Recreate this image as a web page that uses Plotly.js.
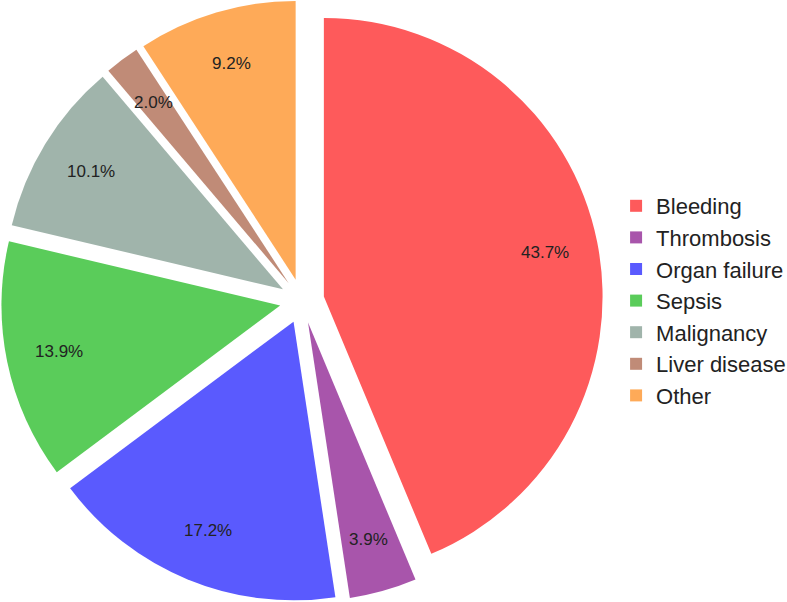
<!DOCTYPE html>
<html>
<head>
<meta charset="utf-8">
<script src="https://cdn.plot.ly/plotly-3.0.1.min.js"></script>
<style>
html,body{margin:0;padding:0;background:#fff}
#chart{width:787px;height:602px}
</style>
</head>
<body>
<div id="chart"></div>
<script>
// causes, share in percent (clockwise from 12 o'clock)
const causes=['Bleeding','Thrombosis','Organ failure','Sepsis','Malignancy','Liver disease','Other']
const shares=[43.7,3.9,17.2,13.9,10.1,2.0,9.2]
const colors=['#fe5a5b','#a855ab','#5a5afe','#5acc5a','#a0b4ab','#c08b77','#feaa58']

const W=787,H=602
const mg={l:0,r:183,t:0,b:0,autoexpand:false}
const pull=0.08
const labelR=0.81

let trace={
    type:'pie',
    labels:causes,
    values:shares,
    sort:false,
    direction:'clockwise',
    rotation:0,
    pull:shares.map(_=>pull),
    marker:{colors:colors,line:{width:0}},
    textinfo:'none',
    hoverinfo:'label+percent'
}

// percent labels along each slice bisector, measured from the pulled-out tip
let pw=W-mg.l-mg.r, ph=H-mg.t-mg.b
let cx=pw/2, cy=ph/2
let r=Math.min(pw,ph)/2/(1+pull)
let total=shares.reduce((a,b)=>a+b)
let cum=0
let annotations=[]
shares.forEach((v,i)=>{
    let mid=(cum+v/2)/total*2*Math.PI
    cum+=v
    let dx=Math.sin(mid), dy=-Math.cos(mid)
    let px=cx+dx*r*(pull+labelR)
    let py=cy+dy*r*(pull+labelR)
    annotations.push({
        x:px/pw, y:1-py/ph, xref:'paper', yref:'paper',
        text:v.toFixed(1)+'%',
        showarrow:false,
        xanchor:'center', yanchor:'middle',
        font:{family:'Liberation Sans, Arial, sans-serif',size:17,color:'#222'}
    })
})

Plotly.newPlot('chart',[trace],{
    width:W,
    height:H,
    margin:mg,
    paper_bgcolor:'#fff',
    showlegend:true,
    legend:{
        x:1.02, y:0.5, yanchor:'middle',
        font:{family:'Liberation Sans, Arial, sans-serif',size:22,color:'#222'}
    },
    annotations:annotations
},{displayModeBar:false,staticPlot:true})
</script>
</body>
</html>
